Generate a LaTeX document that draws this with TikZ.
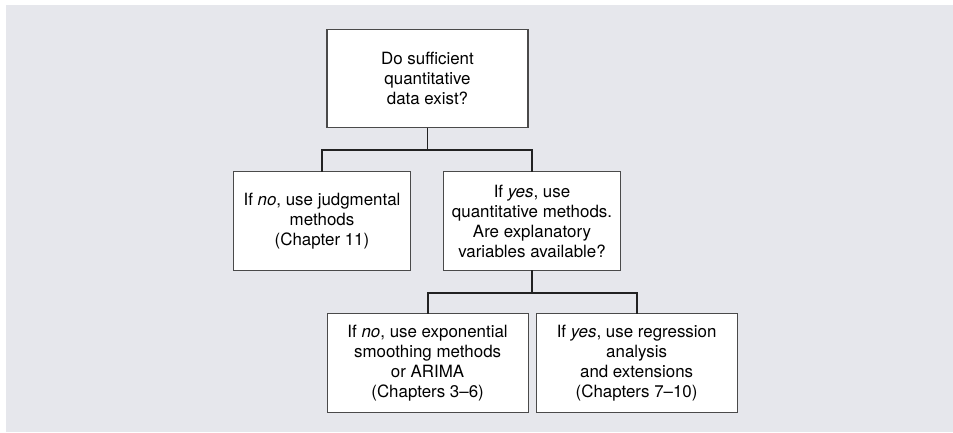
\documentclass[tikz,border=0pt]{standalone}
\usepackage{fontspec}
\setmainfont{TeX Gyre Heros}
\usepackage{xcolor}
\usepackage{tikz}
\usetikzlibrary{positioning}
\definecolor{panel}{HTML}{E6E7EC}
\definecolor{boxline}{HTML}{4A4A4A}
\definecolor{linkline}{HTML}{222222}

\begin{document}
\begin{tikzpicture}[
    x=1pt, y=1pt,
    box/.style={rectangle, draw=boxline, line width=1.1pt, fill=white, align=center,
      inner sep=0pt, outer sep=0pt, font=\fontsize{16.9}{20}\selectfont},
    widebox/.style={box, minimum width=201pt, minimum height=98.5pt},
    narrowbox/.style={box, minimum width=177pt, minimum height=98.5pt},
    link/.style={draw=linkline, line width=1.8pt, line join=miter}
  ]
    \fill[panel] (6,0) rectangle (953,427);
    \useasboundingbox (0,0) rectangle (953,432);
    \node[widebox] (data) at (427.5,353.5) {Do sufficient\\quantitative\\data exist?};
    \node[narrowbox, below=44pt of data, xshift=-105.5pt] (judg) {If \emph{no}, use judgmental\\methods\\(Chapter 11)};
    \node[narrowbox, right=33pt of judg] (quant) {If \emph{yes}, use\\quantitative methods.\\Are explanatory\\variables available?};
    \node[widebox, below=43.5pt of quant, xshift=-104.4pt] (smooth) {If \emph{no}, use exponential\\smoothing methods\\or ARIMA\\(Chapters 3–6)};
    \node[widebox, right=8pt of smooth] (regr) {If \emph{yes}, use regression\\analysis\\and extensions\\(Chapters 7–10)};
    \coordinate[below=22pt of data] (fork1);
    \coordinate[below=22.5pt of quant] (fork2);
    \draw[link] (data.south) -- (fork1);
    \draw[link] (quant.south) -- (fork2);
    \foreach \a/\b in {fork1/judg,fork1/quant,fork2/smooth,fork2/regr}
      \draw[link] (\a) -| (\b.north);
  \end{tikzpicture}
\end{document}
